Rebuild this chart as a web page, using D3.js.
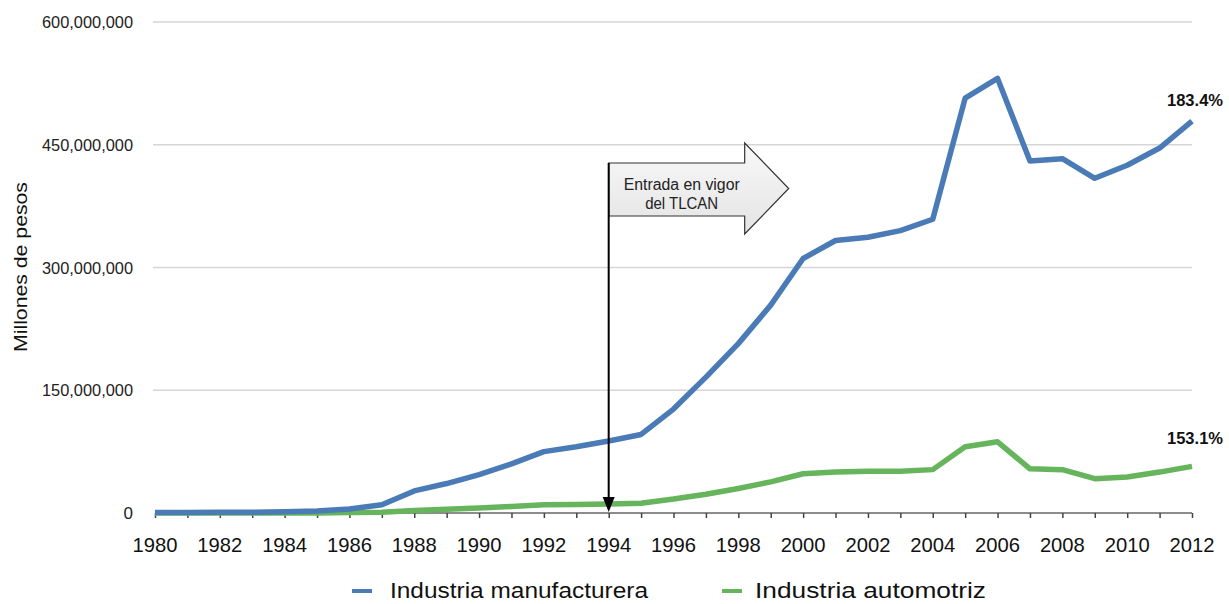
<!DOCTYPE html>
<html><head><meta charset="utf-8">
<script src="https://cdn.jsdelivr.net/npm/d3@7"></script>
<style>body{margin:0;background:#fff;}svg{display:block;font-family:"Liberation Sans",Arial,sans-serif;}</style>
</head><body>
<svg id="c" width="1229" height="604"></svg>
<script>
const years = d3.range(1980, 2013);
const manufacturera = [0.5,0.6,0.8,1,1.5,2.5,5,10,27,36,47,60,75,81,88,96,127,166,207,254,311,333,337,345,359,507,531,430,433,409,425,446,479];
const automotriz = [0,0,0,0,0,0,0.5,1,3,4.5,6,8,10,10.5,11,12,17,23,30,38,48,50,51,51,53,81,87,54,53,42,44,50,57];
const yTicks = [0,150e6,300e6,450e6,600e6];
const xTickLabels = d3.range(1980, 2013, 2);
const seriesNames = ["Industria manufacturera","Industria automotriz"];
const seriesColors = ["#4a7bb7","#66b55c"];
const endLabels = ["183.4%","153.1%"];
const annotationYear = 1994;
const annotationText = ["Entrada en vigor","del TLCAN"];

const svg = d3.select("#c");
const x = d3.scaleLinear().domain([1980,2012]).range([155,1192]);
const y = d3.scaleLinear().domain([0,600e6]).range([513,22]);

// gridlines
svg.append("g").selectAll("line").data(yTicks.filter(d=>d>0)).join("line")
  .attr("x1",153).attr("x2",1192).attr("y1",d=>y(d)).attr("y2",d=>y(d))
  .attr("stroke","#d6d6d6").attr("stroke-width",1.6);

// y labels
svg.append("g").selectAll("text").data(yTicks).join("text")
  .attr("x",133).attr("y",d=>y(d)+6).attr("text-anchor","end")
  .attr("font-size",17).attr("fill","#222")
  .each(function(d){ const s=d3.format(",")(d); const t=d3.select(this).text(s);
     if(s.length>1) t.attr("textLength",91*s.length/11).attr("lengthAdjust","spacingAndGlyphs"); });

svg.append("text").attr("transform","translate(27,267) rotate(-90)")
  .attr("text-anchor","middle").attr("font-size",18).attr("fill","#111")
  .attr("textLength",170).attr("lengthAdjust","spacingAndGlyphs").text("Millones de pesos");

// x axis
const xAxis = d3.axisBottom(x).tickValues(years).tickSize(5).tickFormat("");
const gx = svg.append("g").attr("transform","translate(0,513)").call(xAxis);
gx.select(".domain").attr("stroke","#666").attr("stroke-width",1.6).attr("d","M155,0H1192");
gx.selectAll(".tick line").attr("stroke","#444").attr("stroke-width",1.5);
svg.append("g").selectAll("text").data(xTickLabels).join("text")
  .attr("x",d=>x(d)).attr("y",552).attr("text-anchor","middle")
  .attr("font-size",21).attr("fill","#111")
  .attr("textLength",45).attr("lengthAdjust","spacingAndGlyphs").text(d=>d);

// lines
const data = [manufacturera, automotriz];
const line = d3.line().x((d,i)=>x(years[i])).y(d=>y(d*1e6));
svg.append("g").selectAll("path").data(data.slice().reverse()).join("path")
  .attr("d",line).attr("fill","none")
  .attr("stroke",(d,i)=>seriesColors[1-i]).attr("stroke-width",5.5)
  .attr("stroke-linejoin","round");

// end labels
svg.append("g").selectAll("text").data(data).join("text")
  .attr("x",1223).attr("y",(d,i)=>i===0?106:444).attr("text-anchor","end")
  .attr("font-size",17).attr("font-weight","bold").attr("fill","#111")
  .attr("textLength",56).attr("lengthAdjust","spacingAndGlyphs")
  .text((d,i)=>endLabels[i]);

// annotation arrow
const ax = x(annotationYear);
const defs = svg.append("defs");
const grad = defs.append("linearGradient").attr("id","g1").attr("x1",0).attr("x2",0).attr("y1",0).attr("y2",1);
grad.append("stop").attr("offset","0").attr("stop-color","#f8f8f8");
grad.append("stop").attr("offset","1").attr("stop-color","#e4e4e4");
const bx0 = ax, bx1 = ax+136, tipX = ax+180, hTop = 143, hBot = 234, rT = 163, rB = 216, rMid = (hTop+hBot)/2;
svg.append("path")
  .attr("d",`M${bx0},${rT}H${bx1}V${hTop}L${tipX},${rMid}L${bx1},${hBot}V${rB}H${bx0}Z`)
  .attr("fill","url(#g1)").attr("stroke","#333").attr("stroke-width",1.2);
svg.append("g").selectAll("text").data(annotationText).join("text")
  .attr("x",ax+73).attr("y",(d,i)=>190+i*19).attr("text-anchor","middle")
  .attr("font-size",16).attr("fill","#222")
  .attr("textLength",(d,i)=>i===0?116:73).attr("lengthAdjust","spacingAndGlyphs").text(d=>d);
svg.append("line").attr("x1",ax).attr("x2",ax).attr("y1",rT).attr("y2",500)
  .attr("stroke","#000").attr("stroke-width",2);
svg.append("path").attr("d",`M${ax-6},${497}L${ax+6},${497}L${ax},${512}Z`).attr("fill","#000");

// legend
const lg = svg.append("g");
const lx = [352, 722];
const lw = [258, 231];
seriesNames.forEach((n,i)=>{
  lg.append("line").attr("x1",lx[i]).attr("x2",lx[i]+20).attr("y1",591).attr("y2",591)
    .attr("stroke",seriesColors[i]).attr("stroke-width",4);
  lg.append("text").attr("x",lx[i]+(i===0?38:33)).attr("y",598).attr("font-size",22).attr("fill","#111")
    .attr("textLength",lw[i]).attr("lengthAdjust","spacingAndGlyphs").text(n);
});
</script>
</body></html>
